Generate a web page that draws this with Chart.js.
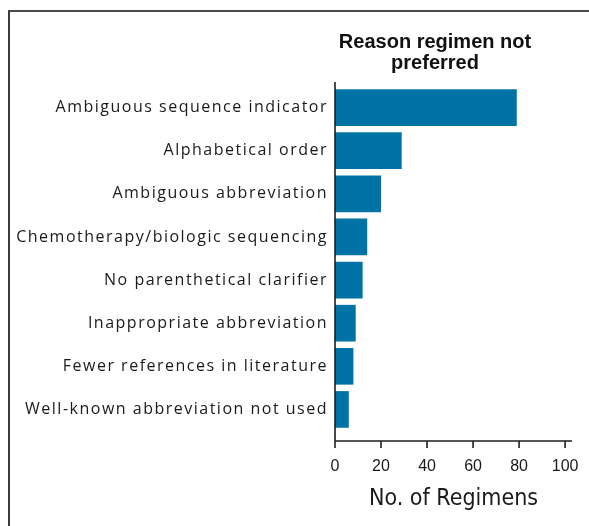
<!DOCTYPE html>
<html>
<head>
<meta charset="utf-8">
<script src="https://cdn.jsdelivr.net/npm/chart.js@4/dist/chart.umd.min.js"></script>
<style>
  html, body { margin: 0; padding: 0; background: #fff; }
  #wrap { position: relative; width: 589px; height: 526px; overflow: hidden; }
  #frame { position: absolute; left: 8px; top: 10px; width: 700px; height: 600px;
           border-top: 2px solid #4a4a4a; border-left: 2px solid #3a3a3a; box-sizing: border-box; }
  #title { position: absolute; left: 315px; width: 240px; top: 31px; text-align: center;
           font: bold 20px 'Liberation Sans', Arial, sans-serif; line-height: 21px; color: #111; }
  canvas { position: absolute; left: 0; top: 0; }
</style>
</head>
<body>
<div id="wrap">
  <div id="frame"></div>
  <canvas id="c" width="589" height="526"></canvas>
  <div id="title">Reason regimen not<br>preferred</div>
</div>
<script>
const categories = [
  'Ambiguous sequence indicator',
  'Alphabetical order',
  'Ambiguous abbreviation',
  'Chemotherapy/biologic sequencing',
  'No parenthetical clarifier',
  'Inappropriate abbreviation',
  'Fewer references in literature',
  'Well-known abbreviation not used'
];
const regimenCounts = [79, 29, 20, 14, 12, 9, 8, 6];
const xTickValues = [0, 20, 40, 60, 80, 100];
const xAxisTitle = 'No. of Regimens';

const axisPlugin = {
  id: 'axisPlugin',
  beforeDraw(chart) { chart.ctx.letterSpacing = '1.5px'; },
  afterDatasetsDraw(chart) { chart.ctx.letterSpacing = '0px'; },
  afterDraw(chart) {
    const { ctx, chartArea: a, scales: { x } } = chart;
    ctx.save();
    ctx.letterSpacing = '0px';
    ctx.strokeStyle = '#1e1e1e';
    ctx.lineWidth = 1.6;
    const axisY = a.bottom + 10;
    ctx.beginPath();
    ctx.moveTo(a.left, a.top - 4);
    ctx.lineTo(a.left, axisY);
    ctx.moveTo(a.left, axisY);
    ctx.lineTo(a.right, axisY);
    x.ticks.forEach(t => {
      const px = x.getPixelForValue(t.value);
      ctx.moveTo(px, axisY);
      ctx.lineTo(px, axisY + 7);
    });
    ctx.stroke();
    ctx.restore();
  }
};

new Chart(document.getElementById('c'), {
  type: 'bar',
  data: {
    labels: categories,
    datasets: [{
      data: regimenCounts,
      backgroundColor: '#0073A6',
      borderWidth: 0,
      barPercentage: 0.85,
      categoryPercentage: 1.0
    }]
  },
  options: {
    indexAxis: 'y',
    responsive: false,
    animation: false,
    devicePixelRatio: 1,
    layout: { padding: { top: 86, right: 17, bottom: 0, left: 0 } },
    plugins: { legend: { display: false }, tooltip: { enabled: false }, title: { display: false } },
    scales: {
      y: {
        type: 'category',
        grid: { display: false, drawTicks: false },
        border: { display: false },
        ticks: {
          color: '#1a1a1a',
          padding: 7,
          font: { family: "'Open Sans', 'DejaVu Sans', sans-serif", size: 16 }
        },
        afterFit(scale) {
          scale.width = 335;
          scale.paddingTop = 0; scale.paddingBottom = 0;
        }
      },
      x: {
        type: 'linear',
        min: 0,
        max: 103,
        grid: { display: false, drawTicks: false, z: 1 },
        border: { display: false },
        ticks: {
          z: 1,
          color: '#1a1a1a',
          padding: 26,
          maxRotation: 0,
          font: { family: "'Liberation Sans', Arial, sans-serif", size: 16 }
        },
        afterBuildTicks(scale) { scale.ticks = xTickValues.map(v => ({ value: v })); },
        title: {
          display: true,
          text: xAxisTitle,
          color: '#1a1a1a',
          font: { family: "'DejaVu Sans Condensed', 'Liberation Sans', sans-serif", size: 23 },
          padding: { top: 0, bottom: 13 }
        },
        afterFit(scale) {
          scale.height = 95;
          scale.paddingLeft = 0; scale.paddingRight = 0;
        }
      }
    }
  },
  plugins: [axisPlugin]
});
</script>
</body>
</html>
